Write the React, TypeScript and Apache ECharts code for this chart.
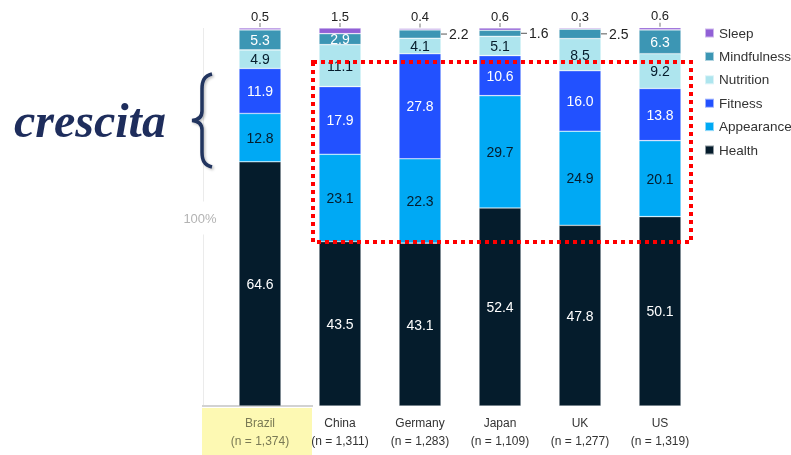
import React, { useEffect, useRef } from "react";
import * as echarts from "echarts";

const countries = ["Brazil", "China", "Germany", "Japan", "UK", "US"];
const sampleSizes = ["1,374", "1,311", "1,283", "1,109", "1,277", "1,319"];
const health = [64.6, 43.5, 43.1, 52.4, 47.8, 50.1];
const appearance = [12.8, 23.1, 22.3, 29.7, 24.9, 20.1];
const fitness = [11.9, 17.9, 27.8, 10.6, 16.0, 13.8];
const nutrition = [4.9, 11.1, 4.1, 5.1, 8.5, 9.2];
const mindfulness = [5.3, 2.9, 2.2, 1.6, 2.5, 6.3];
const sleep = [0.5, 1.5, 0.4, 0.6, 0.3, 0.6];
const seriesNames = ["Health", "Appearance", "Fitness", "Nutrition", "Mindfulness", "Sleep"];
const seriesColors = ["#051C2C", "#00A9F4", "#2251FF", "#AEE5EE", "#3C96B4", "#9160D6"];
const labelColors = ["#ffffff", "#051C2C", "#ffffff", "#051C2C", "#ffffff", "#222222"];
const yTickLabel = "100%";
const annotation = "crescita";

const FONT = "'Liberation Sans', Arial, sans-serif";

export default function App() {
  const ref = useRef<HTMLDivElement>(null);
  useEffect(() => {
    if (!ref.current) return;
    echarts.graphic.registerShape(
      "brace",
      echarts.graphic.extendPath(
        "M22,1 C14,3 12,8 12,16 L12,38 C12,44 8,47 2,47.5 C8,48 12,51 12,57 L12,79 C12,87 14,92 22,94",
        {}
      )
    );
    const chart = echarts.init(ref.current, undefined, { renderer: "svg" });
    const allData = [health, appearance, fitness, nutrition, mindfulness, sleep];

    const series: any[] = allData.map((arr, si) => {
      const name = seriesNames[si];
      let data: any[] = arr.slice();
      let label: any = {
        show: true,
        position: "inside",
        color: labelColors[si],
        fontSize: 14,
        fontFamily: FONT,
        formatter: (p: any) => Number(p.value).toFixed(1),
      };
      if (name === "Sleep") {
        label = {
          show: true,
          position: "top",
          distance: 1,
          formatter: (p: any) => `{v|${Number(p.value).toFixed(1)}}\n{t|}`,
          rich: {
            v: { fontSize: 13, color: "#222", fontFamily: FONT, lineHeight: 14 },
            t: { width: 1, height: 4, backgroundColor: "#777" },
          },
        };
      }
      if (name === "Mindfulness") {
        data = arr.map((v) =>
          v < 2.8
            ? {
                value: v,
                label: {
                  position: "right",
                  distance: 0,
                  formatter: (p: any) => `{t|}{v|${Number(p.value).toFixed(1)}}`,
                  rich: {
                    t: { width: 6, height: 1, backgroundColor: "#555" },
                    v: { fontSize: 14, color: "#222", fontFamily: FONT, padding: [0, 0, 0, 2] },
                  },
                },
              }
            : v
        );
      }
      return {
        name,
        type: "bar",
        stack: "total",
        barWidth: 42,
        data,
        itemStyle: {
          color: seriesColors[si],
          borderColor: "rgba(255,255,255,0.55)",
          borderWidth: 0.6,
        },
        label,
      };
    });

    chart.setOption({
      animation: false,
      textStyle: { fontFamily: FONT },
      grid: { left: 220, right: 91, top: 28, bottom: 49 },
      legend: {
        orient: "vertical",
        left: 699,
        top: 21,
        icon: "rect",
        itemWidth: 9,
        itemHeight: 9,
        itemGap: 9.4,
        textStyle: { fontSize: 13.5, color: "#333", lineHeight: 14, fontFamily: FONT },
        data: seriesNames.slice().reverse(),
      },
      xAxis: {
        type: "category",
        data: countries,
        axisLine: { show: false },
        axisTick: { show: false },
        axisLabel: {
          margin: 8,
          interval: 0,
          formatter: (v: string, i: number) =>
            i === 0
              ? `{b|${v}}\n{b|(n = ${sampleSizes[i]})}`
              : `{a|${v}}\n{a|(n = ${sampleSizes[i]})}`,
          rich: {
            a: { fontSize: 12, color: "#333", lineHeight: 18, fontFamily: FONT },
            b: { fontSize: 12, color: "#7a7a55", lineHeight: 18, fontFamily: FONT },
          },
        },
      },
      yAxis: { type: "value", min: 0, max: 100, show: false },
      series,
      graphic: [
        {
          type: "rect",
          z: -10,
          shape: { x: 202, y: 408, width: 110, height: 47 },
          style: { fill: "#FDF9B3" },
        },
        {
          type: "rect",
          z: -5,
          shape: { x: 202, y: 405, width: 111, height: 2 },
          style: { fill: "#d2d2d2" },
        },
        {
          type: "line",
          z: -5,
          shape: { x1: 203.5, y1: 28, x2: 203.5, y2: 405 },
          style: { stroke: "#ebebeb", lineWidth: 1 },
        },
        {
          type: "text",
          z: 1,
          x: 200,
          y: 218,
          style: {
            text: yTickLabel,
            fill: "#b3b3b3",
            fontSize: 13,
            fontFamily: FONT,
            align: "center",
            verticalAlign: "middle",
            backgroundColor: "#fff",
            padding: [10, 0, 10, 0],
          },
        },
        {
          type: "text",
          x: 14,
          y: 120,
          style: {
            text: annotation,
            fill: "#1E2D5C",
            font: "italic bold 48px 'Liberation Serif', serif",
            verticalAlign: "middle",
            shadowColor: "rgba(0,0,0,0.25)",
            shadowOffsetX: 1.5,
            shadowOffsetY: 1.5,
            shadowBlur: 2,
          },
        },
        {
          type: "brace",
          x: 190,
          y: 73,
          shape: {},
          style: {
            fill: "none",
            stroke: "#23345F",
            lineWidth: 3.5,
            shadowColor: "rgba(0,0,0,0.25)",
            shadowOffsetX: 1.5,
            shadowOffsetY: 1.5,
            shadowBlur: 2,
          },
        },
        {
          type: "rect",
          z: 100,
          shape: { x: 313, y: 62, width: 378, height: 180 },
          style: { fill: "none", stroke: "#ff0000", lineWidth: 4, lineDash: [4, 4] },
        },
      ],
    });
    return () => chart.dispose();
  }, []);
  return (
    <div
      ref={ref}
      style={{ position: "fixed", left: 0, top: 0, width: 791, height: 455 }}
    />
  );
}
